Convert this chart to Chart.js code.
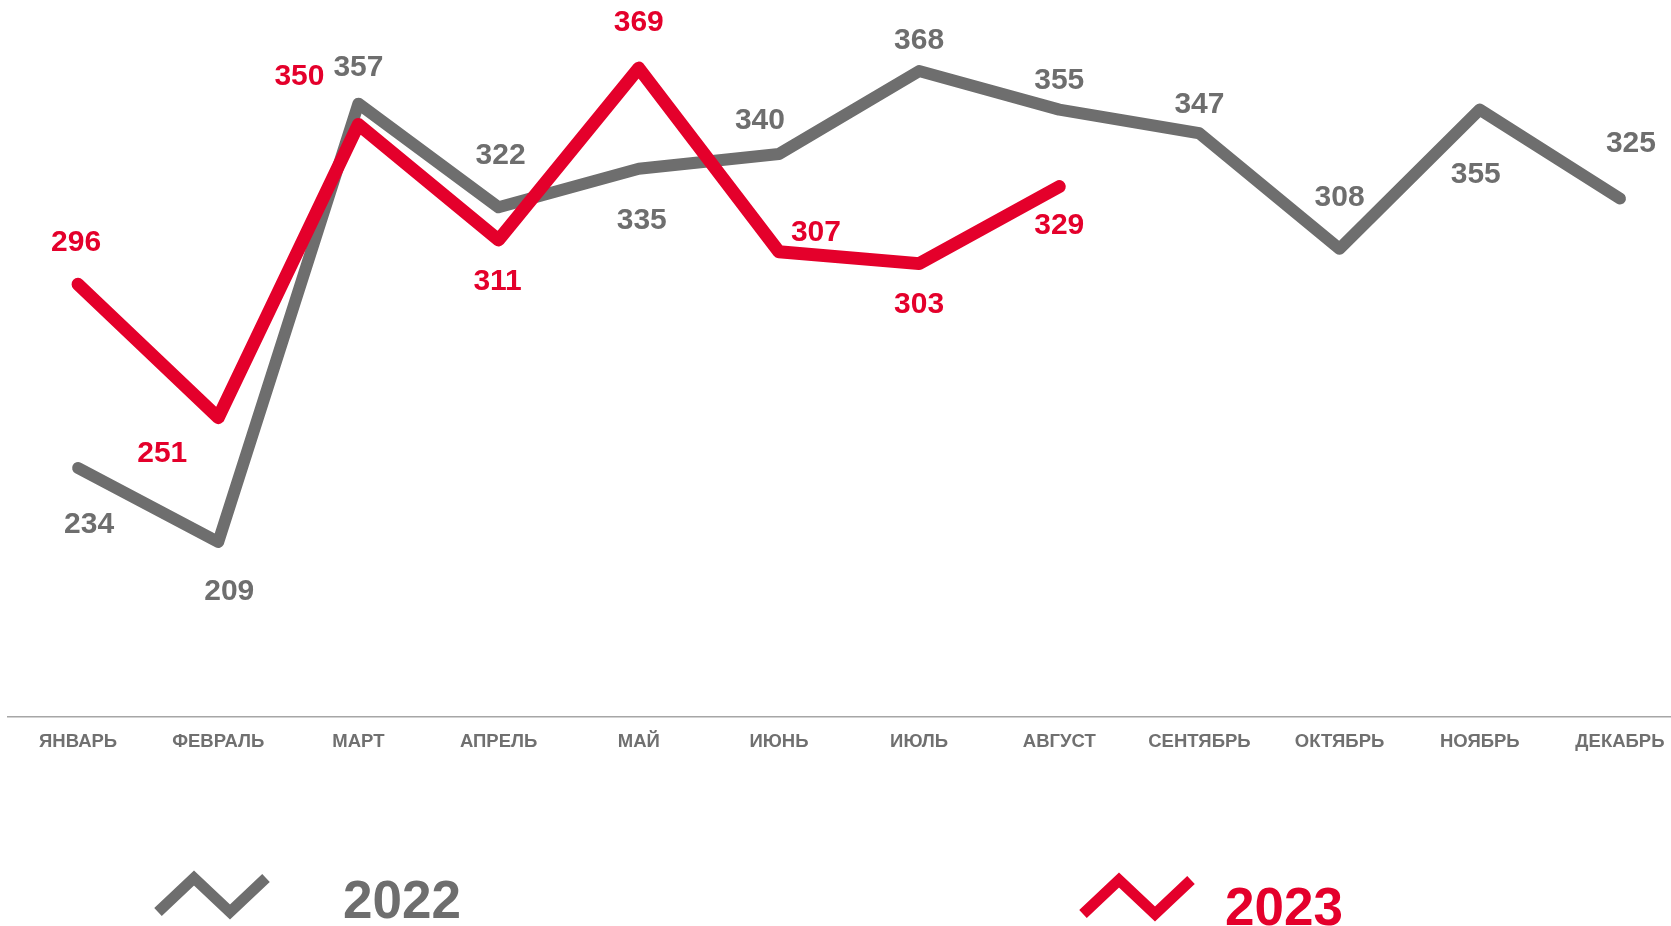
<!DOCTYPE html>
<html>
<head>
<meta charset="utf-8">
<script src="https://cdn.jsdelivr.net/npm/chart.js@4.4.1/dist/chart.umd.min.js"></script>
<style>
  html, body { margin: 0; padding: 0; background: #ffffff; overflow: hidden; }
  #wrap { position: relative; width: 1700px; height: 926px; }
</style>
</head>
<body>
<div id="wrap"><canvas id="c"></canvas></div>
<script>
// ---- data ----
const months = ['ЯНВАРЬ', 'ФЕВРАЛЬ', 'МАРТ', 'АПРЕЛЬ', 'МАЙ', 'ИЮНЬ', 'ИЮЛЬ', 'АВГУСТ', 'СЕНТЯБРЬ', 'ОКТЯБРЬ', 'НОЯБРЬ', 'ДЕКАБРЬ'];
const values2022 = [234, 209, 357, 322, 335, 340, 368, 355, 347, 308, 355, 325];
const values2023 = [296, 251, 350, 311, 369, 307, 303, 329];
const seriesNames = ['2022', '2023'];

// ---- styles ----
const GRAY = '#6e6e6e';
const RED = '#e4002b';
const FONT = "'Liberation Sans', Arial, sans-serif";

// label offsets (px) relative to each point, per series
const labelOffsets = {
  '2022': [[11, 54], [11, 47], [0, -39], [2, -55], [3, 49], [-19, -36], [0, -33], [0, -32], [0, -32], [0, -54], [-4, 62], [11, -58]],
  '2023': [[-2, -45], [-56, 33], [-59, -51], [-1, 39], [0, -48], [37, -22], [0, 38], [0, 36]]
};
const LABEL_SHIFT_Y = 3;

const valueLabels = {
  id: 'valueLabels',
  afterDatasetsDraw(chart) {
    const ctx = chart.ctx;
    ctx.save();
    ctx.font = 'bold 30px ' + FONT;
    ctx.textAlign = 'center';
    ctx.textBaseline = 'middle';
    chart.data.datasets.forEach((ds, di) => {
      const meta = chart.getDatasetMeta(di);
      const offs = labelOffsets[ds.label] || [];
      ctx.fillStyle = ds.borderColor;
      meta.data.forEach((el, i) => {
        const v = ds.data[i];
        if (v == null) return;
        const o = offs[i] || [0, -30];
        ctx.fillText(String(v), el.x + o[0], el.y + o[1] + LABEL_SHIFT_Y);
      });
    });
    ctx.restore();
  }
};

// custom legend: zigzag icon + big year text
const legendLayout = {
  '2022': { icon: 212, text: 402, iconY: 895, textY: 903 },
  '2023': { icon: 1137, text: 1284, iconY: 897, textY: 910 }
};
const bigLegend = {
  id: 'bigLegend',
  afterDraw(chart) {
    const ctx = chart.ctx;
    ctx.save();
    chart.data.datasets.forEach((ds) => {
      const L = legendLayout[ds.label];
      if (!L) return;
      const w = 108, h = 34;
      const x0 = L.icon - w / 2, yc = L.iconY;
      ctx.strokeStyle = ds.borderColor;
      ctx.lineWidth = 11;
      ctx.lineCap = 'butt';
      ctx.lineJoin = 'miter';
      ctx.beginPath();
      ctx.moveTo(x0, yc + h / 2);
      ctx.lineTo(x0 + w / 3, yc - h / 2);
      ctx.lineTo(x0 + 2 * w / 3, yc + h / 2);
      ctx.lineTo(x0 + w, yc - h / 2);
      ctx.stroke();
      ctx.fillStyle = ds.borderColor;
      ctx.font = 'bold 53px ' + FONT;
      ctx.textAlign = 'center';
      ctx.textBaseline = 'middle';
      ctx.fillText(ds.label, L.text, L.textY);
    });
    ctx.restore();
  }
};

new Chart(document.getElementById('c'), {
  type: 'line',
  data: {
    labels: months,
    datasets: [
      {
        label: seriesNames[1],
        data: values2023,
        borderColor: RED,
        backgroundColor: RED,
        borderWidth: 13,
        tension: 0,
        pointRadius: 0,
        borderCapStyle: 'round',
        borderJoinStyle: 'round',
        fill: false
      },
      {
        label: seriesNames[0],
        data: values2022,
        borderColor: GRAY,
        backgroundColor: GRAY,
        borderWidth: 12,
        tension: 0,
        pointRadius: 0,
        borderCapStyle: 'round',
        borderJoinStyle: 'round',
        fill: false
      }
    ]
  },
  options: {
    responsive: true,
    maintainAspectRatio: false,
    animation: false,
    layout: { padding: { left: 8, right: 10, top: 0, bottom: 159 } },
    plugins: {
      legend: { display: false },
      tooltip: { enabled: false }
    },
    scales: {
      x: {
        offset: true,
        grid: { display: false, drawTicks: false },
        border: { display: true, color: '#a6a6a6', width: 1.5 },
        ticks: {
          color: '#707070',
          padding: 14,
          font: { family: FONT, size: 18.5, weight: 'bold' },
          maxRotation: 0,
          autoSkip: false
        }
      },
      y: {
        display: false,
        min: 150,
        max: 392
      }
    }
  },
  plugins: [valueLabels, bigLegend]
});
</script>
</body>
</html>
